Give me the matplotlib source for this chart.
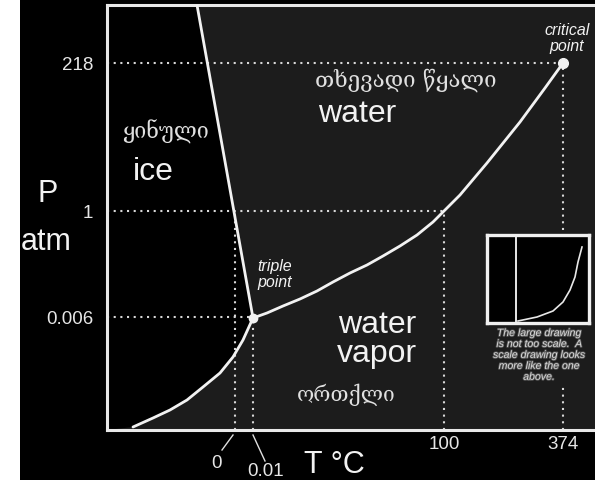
import matplotlib
matplotlib.use("Agg")
import matplotlib.pyplot as plt
from matplotlib.patches import Rectangle, Polygon
import matplotlib.patheffects as pe

plt.rcParams['font.family'] = ['Liberation Sans', 'DejaVu Sans']

# ---- data (schematic diagram units; the large drawing is not to scale) ----
subl_T = [26, 46, 63, 80, 96, 113, 126, 136, 146]
subl_P = [3, 12, 20, 30, 43, 57, 73, 90, 112]
vap_T = [146, 160, 176, 193, 210, 226, 243, 260, 276, 293, 310, 326, 337, 353, 380, 413, 438, 456]
vap_P = [112, 117, 124, 131, 139, 148, 157, 165, 174, 184, 195, 208, 219, 235, 267, 308, 342, 367]
melt_T = [146, 90]
melt_P = [112, 425]
triple = (146, 112)
critical = (456, 367)

p_pos = [113, 219, 367]
p_labels = ['0.006', '1', '218']
t_pos = [128, 146, 337, 456]
t_labels = ['0', '0.01', '100', '374']

# inset (to-scale sketch)
inset_melt_x = [29, 29]
inset_melt_y = [0, 88]
inset_curve_x = [31, 50, 66, 76, 83, 88, 91, 95]
inset_curve_y = [2, 6, 12, 21, 33, 46, 61, 76]

W, H = 595, 480
BG = '#1c1c1c'
FG = '#f2f2f2'

fig = plt.figure(figsize=(W / 100, H / 100), dpi=100, facecolor='white')
fig.patches.append(Rectangle((20 / W, 0), (W - 20) / W, 1, transform=fig.transFigure,
                             facecolor='black', edgecolor='none', zorder=-10))

ax = fig.add_axes([107 / W, 50 / H, 488 / W, 425 / H])
ax.set_xlim(0, 488)
ax.set_ylim(0, 425)
ax.set_facecolor(BG)


def px(x, y):
    return (x - 107, 430 - y)


# ice region (black)
ice_poly = [(0, 0)] + list(zip(subl_T, subl_P)) + [(melt_T[1], melt_P[1]), (0, 425)]
ax.add_patch(Polygon(ice_poly, closed=True, facecolor='black', edgecolor='none', zorder=0))

# dotted guide lines
dot = dict(color='#d8d8d8', lw=1.5, ls=(0, (1, 2.2)), dash_capstyle='butt', zorder=1)
ax.plot([0, critical[0]], [p_pos[2], p_pos[2]], **dot)
ax.plot([0, t_pos[2]], [p_pos[1], p_pos[1]], **dot)
ax.plot([0, triple[0]], [p_pos[0], p_pos[0]], **dot)
ax.plot([t_pos[0], t_pos[0]], [0, p_pos[1]], **dot)
ax.plot([t_pos[1], t_pos[1]], [0, triple[1]], **dot)
ax.plot([t_pos[2], t_pos[2]], [0, p_pos[1]], **dot)
ax.plot([t_pos[3], t_pos[3]], [0, critical[1]], **dot)

# phase boundaries
line = dict(color=FG, lw=2.0, solid_capstyle='round', solid_joinstyle='round', zorder=3)
ax.plot(subl_T, subl_P, **line)
ax.plot(vap_T, vap_P, **line)
ax.plot(melt_T, melt_P, **line)
ax.plot(*triple, 'o', color=FG, ms=6, zorder=4)
ax.plot(*critical, 'o', color=FG, ms=7, zorder=4)

# spines
for s in ['left', 'bottom', 'top']:
    ax.spines[s].set_color('#e8e8e8')
    ax.spines[s].set_linewidth(2.2)
ax.spines['right'].set_visible(False)

ax.set_yticks(p_pos, p_labels)
ax.set_xticks(t_pos[2:], t_labels[2:])
ax.tick_params(axis='both', length=0, labelcolor='#e6e6e6', labelsize=13.5)
ax.tick_params(axis='y', pad=10)
ax.tick_params(axis='x', pad=4)

# x labels with leader lines for 0 and 0.01
lead = dict(color='#e0e0e0', lw=1.0, clip_on=False)
ax.plot(*zip(px(233, 435), px(222, 450)), **lead)
ax.plot(*zip(px(253, 435), px(265, 461)), **lead)
ax.text(*px(217, 468), t_labels[0], ha='center', va='baseline', color='#e6e6e6', fontsize=13.5, clip_on=False)
ax.text(*px(266, 476), t_labels[1], ha='center', va='baseline', color='#e6e6e6', fontsize=13.5, clip_on=False)

# axis titles
ax.text(*px(48, 202), 'P', ha='center', va='baseline', color=FG, fontsize=22, clip_on=False)
ax.text(*px(46, 250), 'atm', ha='center', va='baseline', color=FG, fontsize=22, clip_on=False)
ax.text(*px(334, 473), 'T °C', ha='center', va='baseline', color=FG, fontsize=22, clip_on=False)

# region labels
geo = ['DejaVu Serif', 'DejaVu Sans']
ax.text(*px(315, 87), 'თხევადი წყალი', ha='left', va='baseline', color='#e0e0e0', fontsize=16, family=geo)
ax.text(*px(318, 122), 'water', ha='left', va='baseline', color=FG, fontsize=23)
ax.text(*px(122, 139), 'ყინული', ha='left', va='baseline', color='#e0e0e0', fontsize=15.5, family=geo)
ax.text(*px(133, 180), 'ice', ha='left', va='baseline', color=FG, fontsize=23)
ax.text(*px(338, 333), 'water', ha='left', va='baseline', color=FG, fontsize=23)
ax.text(*px(337, 362), 'vapor', ha='left', va='baseline', color=FG, fontsize=23)
ax.text(*px(297, 401), 'ორთქლი', ha='left', va='baseline', color='#e0e0e0', fontsize=15, family=geo)

ax.text(*px(275, 287), 'triple\npoint', ha='center', va='baseline', color=FG, fontsize=11.5,
        style='italic', linespacing=1.05)
ax.text(*px(567, 51), 'critical\npoint', ha='center', va='baseline', color=FG, fontsize=11.5,
        style='italic', linespacing=1.05)

# note text below inset
ax.text(*px(539, 328), 'The large drawing\nis not too scale.  A\nscale drawing looks\nmore like the one\nabove.',
        ha='center', va='top', color='#d8d8d8', fontsize=7.6, style='italic', linespacing=1.12,
        zorder=6, bbox=dict(facecolor=BG, edgecolor='none', pad=3),
        path_effects=[pe.withStroke(linewidth=1.2, foreground='#555555')])

# inset
iax = fig.add_axes([487 / W, (480 - 323) / H, 102 / W, 88 / H])
iax.set_zorder(5)
iax.set_facecolor('black')
iax.set_xlim(0, 102)
iax.set_ylim(0, 88)
iax.set_xticks([])
iax.set_yticks([])
for s in iax.spines.values():
    s.set_color('#f0f0f0')
    s.set_linewidth(2.4)
iax.plot(inset_melt_x, inset_melt_y, color='#e8e8e8', lw=1.4)
iax.plot(inset_curve_x, inset_curve_y, color='#e8e8e8', lw=1.2, solid_joinstyle='round')

fig.savefig('out.png', dpi=100, facecolor='white')
